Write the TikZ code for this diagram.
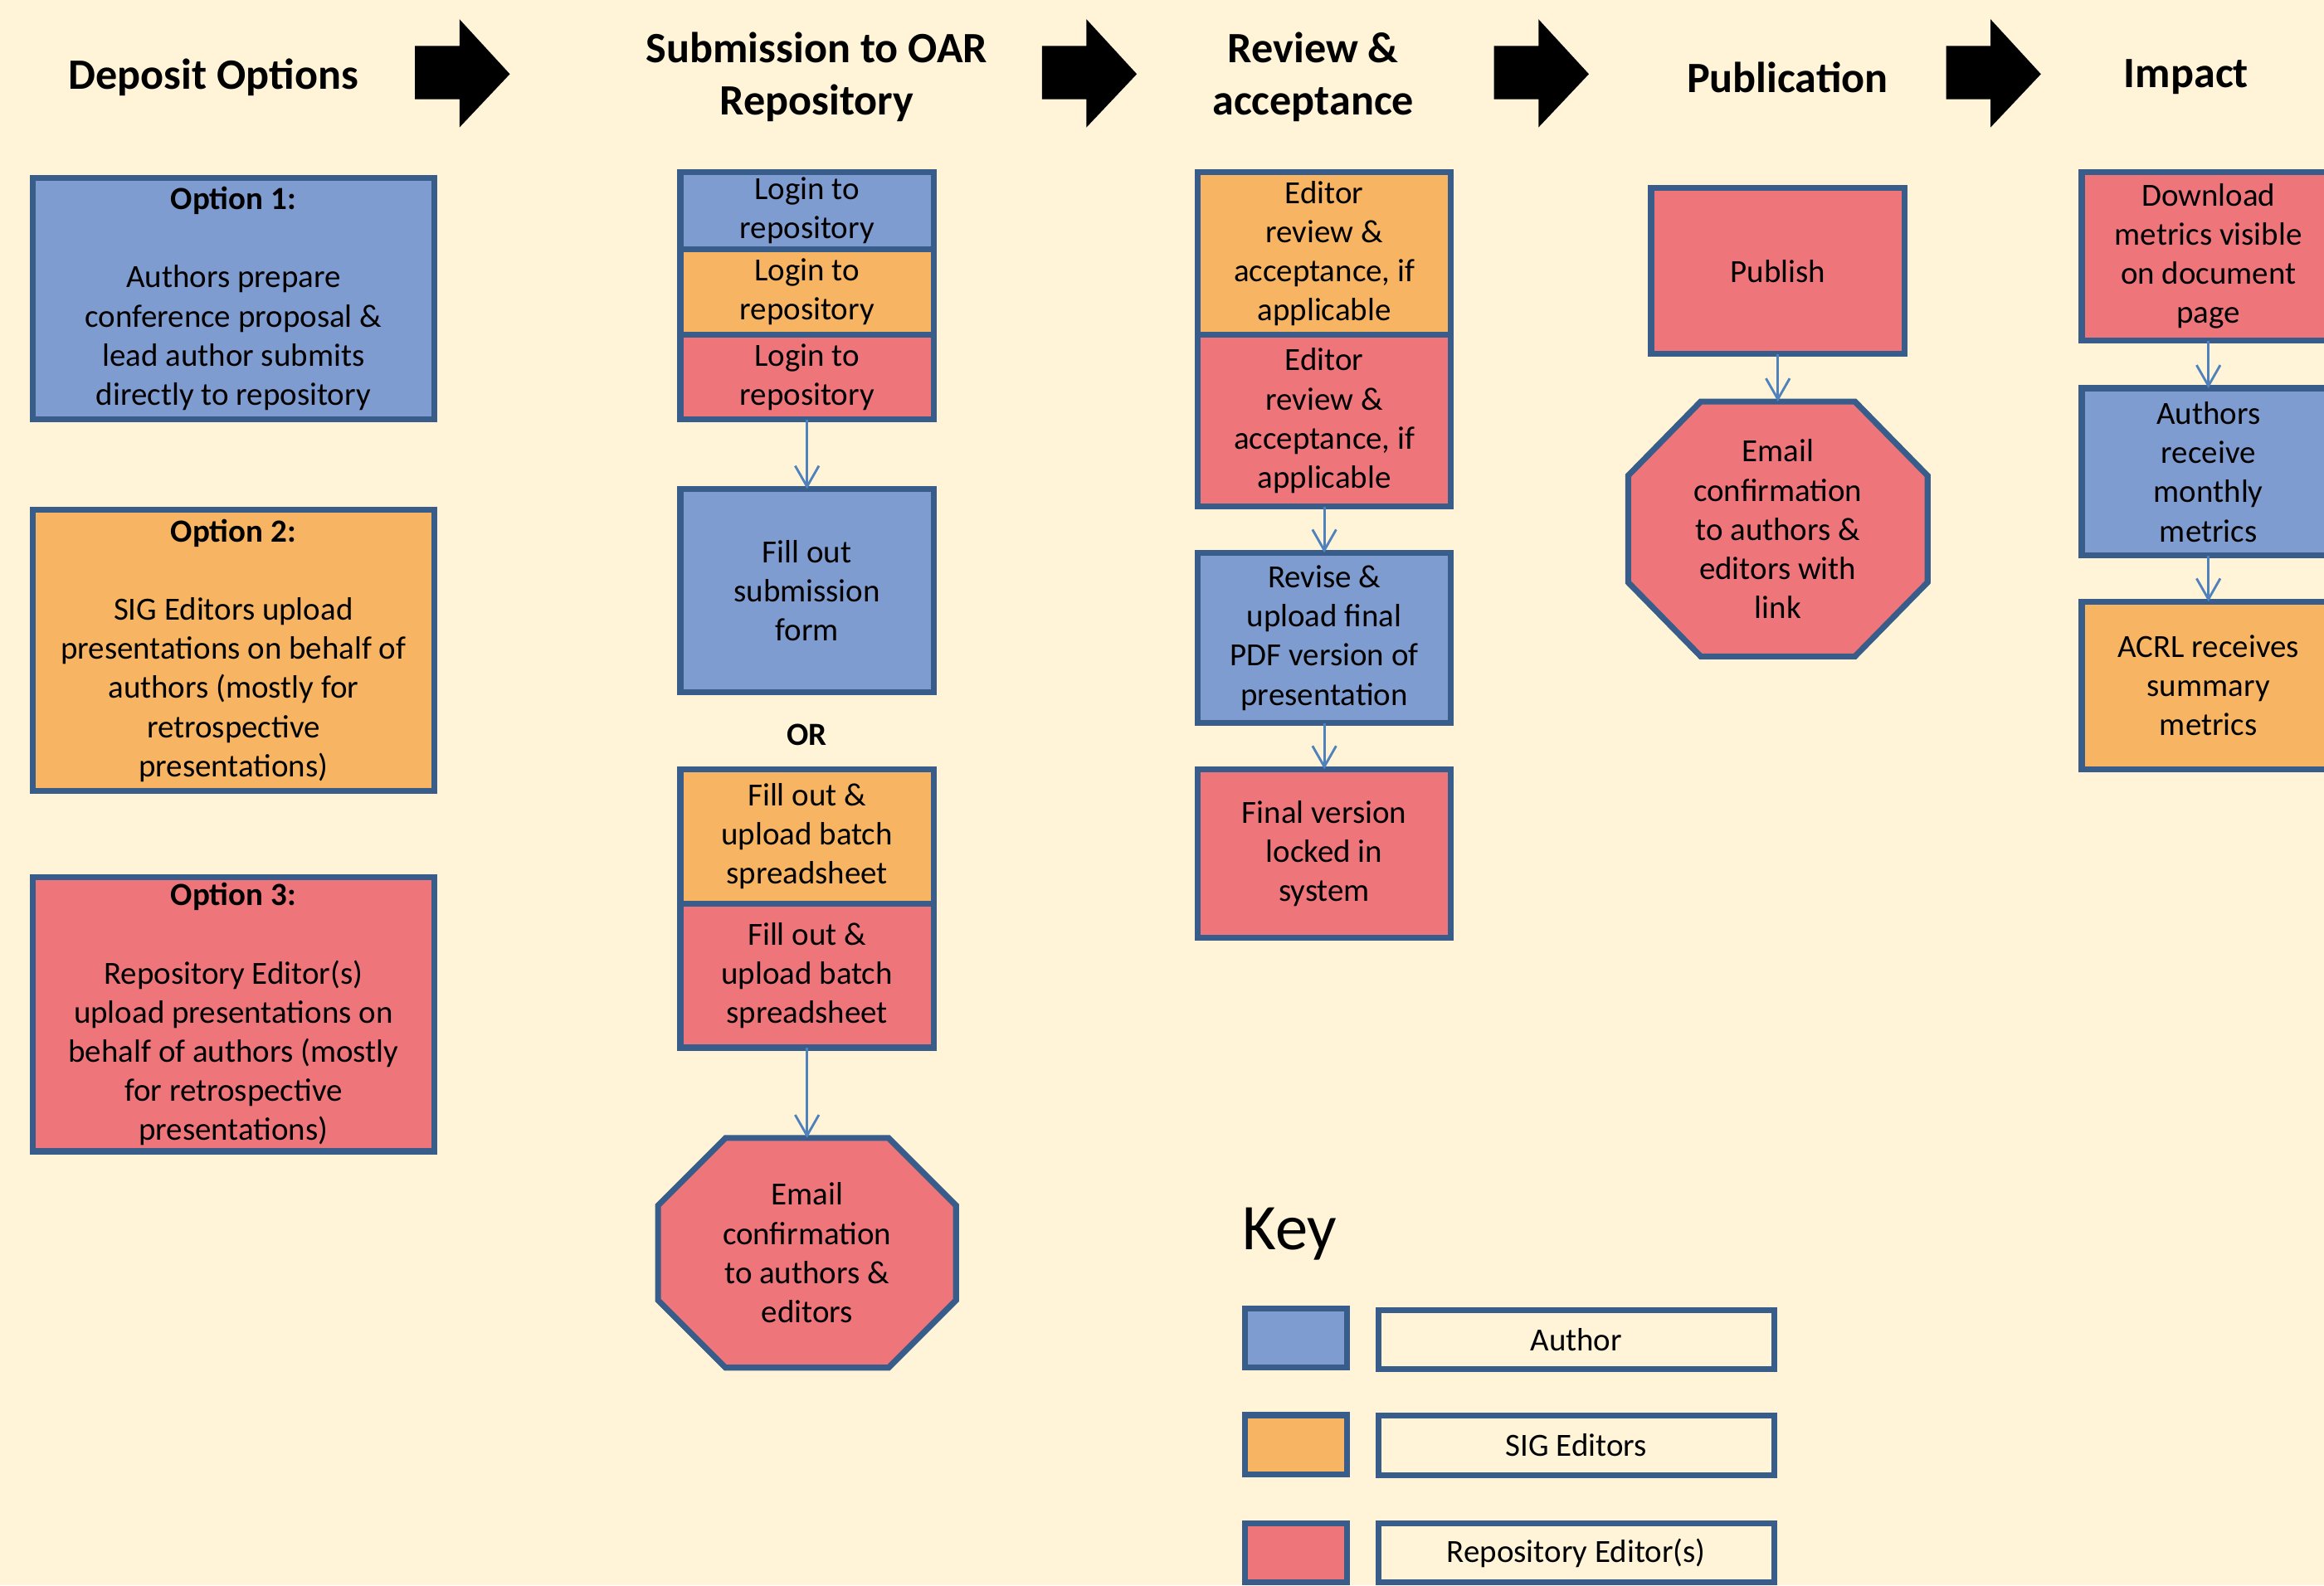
\documentclass[tikz,border=0pt]{standalone}
\usepackage{fontspec}
\setmainfont{Carlito}
\usetikzlibrary{arrows.meta}
\definecolor{cream}{RGB}{255,244,216}
\definecolor{authblue}{RGB}{126,156,208}
\definecolor{sigorange}{RGB}{247,180,98}
\definecolor{repred}{RGB}{238,118,123}
\definecolor{rim}{RGB}{56,93,138}
\definecolor{link}{RGB}{79,129,189}
\begin{document}
\begin{tikzpicture}[>={Straight Barb[length=7bp,width=8bp]},line join=miter,
  rimline/.style={draw=rim,line width=2bp},
  box/.style={rimline,align=center,inner sep=0pt,outer sep=0pt,font=\fontsize{10.9bp}{13.2bp}\selectfont},
  hdr/.style={align=center,font=\fontsize{14.6bp}{17.5bp}\selectfont\bfseries},
  flow/.style={link,line width=0.8bp,->},
]
%%
\useasboundingbox (0bp,0bp) rectangle (784bp,535bp);
\fill [cream] (0bp,0bp) rectangle (784bp,535bp);
\clip (0bp,0bp) rectangle (784bp,535bp);
%% stage headers
\node (hd_deposit) at (72bp,509bp) [hdr] {Deposit Options};
  \node (hd_submit) at (275.5bp,509bp) [hdr] {Submission to OAR\\Repository};
  \node (hd_review) at (443bp,509bp) [hdr] {Review \&\\acceptance};
  \node (hd_pub) at (603bp,509bp) [hdr] {Publication};
  \node (hd_impact) at (737.5bp,509bp) [hdr] {Impact};
\foreach \x in {140,351.5,504,656.5}
  \fill [xshift=\x bp] (0bp,501.5bp) -- (15bp,501.5bp) -- (15bp,492bp) -- (32bp,510bp) -- (15bp,528.5bp) -- (15bp,519.5bp) -- (0bp,519.5bp) -- cycle;
%% deposit options
\node (opt_1) at (78.75bp,434.25bp) [box,fill=authblue,minimum width=135.5bp,minimum height=81.5bp] {\textbf{Option 1:}\\[13.2bp]Authors prepare\\conference proposal \&\\lead author submits\\directly to repository};
  \node (opt_2) at (78.75bp,315.5bp) [box,fill=sigorange,minimum width=135.5bp,minimum height=95bp] {\textbf{Option 2:}\\[13.2bp]SIG Editors upload\\presentations on behalf of\\authors (mostly for\\retrospective\\presentations)};
  \node (opt_3) at (78.75bp,192.75bp) [box,fill=repred,minimum width=135.5bp,minimum height=92.5bp] {\textbf{Option 3:}\\[13.2bp]Repository Editor(s)\\upload presentations on\\behalf of authors (mostly\\for retrospective\\presentations)};
%% submission
\node (login_a) at (272.25bp,464bp) [box,fill=authblue,minimum width=85.5bp,minimum height=26bp] {Login to\\repository};
  \node (login_b) at (272.25bp,436.5bp) [box,fill=sigorange,minimum width=85.5bp,minimum height=29bp] {Login to\\repository};
  \node (login_c) at (272.25bp,407.75bp) [box,fill=repred,minimum width=85.5bp,minimum height=28.5bp] {Login to\\repository};
  \node (form) at (272.25bp,335.75bp) [box,fill=authblue,minimum width=85.5bp,minimum height=68.5bp] {Fill out\\submission\\form};
  \node (or) at (272.25bp,287bp) [font=\fontsize{10.9bp}{13.2bp}\selectfont\bfseries] {OR};
  \node (batch_a) at (272.25bp,252.75bp) [box,fill=sigorange,minimum width=85.5bp,minimum height=45.5bp] {Fill out \&\\upload batch\\spreadsheet};
  \node (batch_b) at (272.25bp,205.75bp) [box,fill=repred,minimum width=85.5bp,minimum height=48.5bp] {Fill out \&\\upload batch\\spreadsheet};
  \filldraw [rimline,fill=repred,shift={(272.25bp,112.25bp)}] (-27.5bp,38.75bp) -- (27.5bp,38.75bp) -- (50.25bp,16bp) -- (50.25bp,-16bp) -- (27.5bp,-38.75bp) -- (-27.5bp,-38.75bp) -- (-50.25bp,-16bp) -- (-50.25bp,16bp) -- cycle;
  \node (email_1) at (272.25bp,112.25bp) [box,draw=none,minimum height=77.5bp] {Email\\confirmation\\to authors \&\\editors};
  \draw [flow] (login_c) -- (form);
  \draw [flow] (batch_b) -- (email_1);
%% review
\node (edit_a) at (446.75bp,449.5bp) [box,fill=sigorange,minimum width=85.5bp,minimum height=55bp] {Editor\\review \&\\acceptance, if\\applicable};
  \node (edit_b) at (446.75bp,393bp) [box,fill=repred,minimum width=85.5bp,minimum height=58bp] {Editor\\review \&\\acceptance, if\\applicable};
  \node (revise) at (446.75bp,319.75bp) [box,fill=authblue,minimum width=85.5bp,minimum height=57.5bp] {Revise \&\\upload final\\PDF version of\\presentation};
  \node (final) at (446.75bp,247bp) [box,fill=repred,minimum width=85.5bp,minimum height=57bp] {Final version\\locked in\\system};
  \draw [flow] (edit_b) -- (revise);
  \draw [flow] (revise) -- (final);
%% publication
\node (publish) at (599.75bp,443.5bp) [box,fill=repred,minimum width=85.5bp,minimum height=56bp] {Publish};
  \filldraw [rimline,fill=repred,shift={(599.75bp,356.5bp)}] (-26bp,43bp) -- (26bp,43bp) -- (50.5bp,18bp) -- (50.5bp,-18bp) -- (26bp,-43bp) -- (-26bp,-43bp) -- (-50.5bp,-18bp) -- (-50.5bp,18bp) -- cycle;
  \node (email_2) at (599.75bp,356.5bp) [box,draw=none,minimum height=86bp] {Email\\confirmation\\to authors \&\\editors with\\link};
  \draw [flow] (publish) -- (email_2);
%% impact
\node (download) at (745bp,448.5bp) [box,fill=repred,minimum width=85.5bp,minimum height=57bp] {Download\\metrics visible\\on document\\page};
  \node (receive) at (745bp,375.75bp) [box,fill=authblue,minimum width=85.5bp,minimum height=56.5bp] {Authors\\receive\\monthly\\metrics};
  \node (acrl) at (745bp,303.75bp) [box,fill=sigorange,minimum width=85.5bp,minimum height=56.5bp] {ACRL receives\\summary\\metrics};
  \draw [flow] (download) -- (receive);
  \draw [flow] (receive) -- (acrl);
%% key
\node (key_title) at (419bp,118.5bp) [anchor=west,inner sep=0pt,font=\fontsize{22bp}{26bp}\selectfont] {Key};
  \node (key_a) at (437.25bp,83.5bp) [box,fill=authblue,minimum width=34.5bp,minimum height=20bp] {};
  \node (key_b) at (437.25bp,47.5bp) [box,fill=sigorange,minimum width=34.5bp,minimum height=20bp] {};
  \node (key_c) at (437.25bp,11bp) [box,fill=repred,minimum width=34.5bp,minimum height=20bp] {};
  \node (lab_a) at (531.75bp,83bp) [box,minimum width=133.5bp,minimum height=20bp] {Author};
  \node (lab_b) at (531.75bp,47.25bp) [box,minimum width=133.5bp,minimum height=20bp] {SIG Editors};
  \node (lab_c) at (531.75bp,11bp) [box,minimum width=133.5bp,minimum height=20bp] {Repository Editor(s)};
%
\end{tikzpicture}
\end{document}
